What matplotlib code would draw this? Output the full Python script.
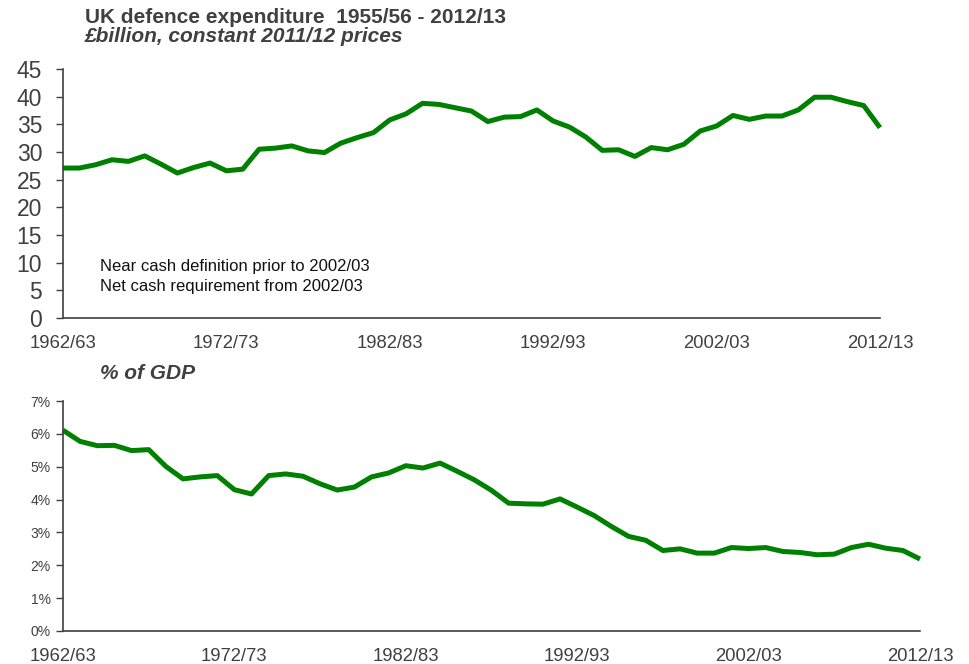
import matplotlib
matplotlib.use("Agg")
import matplotlib.pyplot as plt
import matplotlib.ticker as mticker
import numpy as np

plt.rcParams['font.family'] = ['Liberation Sans', 'DejaVu Sans']

years = ["%d/%02d" % (y, (y + 1) % 100) for y in range(1962, 2013)]
tick_labels = ["1962/63", "1972/73", "1982/83", "1992/93", "2002/03", "2012/13"]

spend_bn = [27.1, 27.1, 27.7, 28.6, 28.3, 29.3, 27.8, 26.2, 27.2, 28.0,
            26.6, 26.9, 30.5, 30.7, 31.1, 30.2, 29.9, 31.6, 32.6, 33.5,
            35.8, 36.9, 38.8, 38.6, 38.0, 37.4, 35.5, 36.3, 36.4, 37.6,
            35.6, 34.5, 32.7, 30.3, 30.4, 29.2, 30.8, 30.4, 31.4, 33.8,
            34.7, 36.6, 35.9, 36.5, 36.5, 37.6, 39.9, 39.9, 39.1, 38.4,
            34.4]

gdp_pct = [6.11, 5.77, 5.64, 5.65, 5.49, 5.52, 5.01, 4.63, 4.69, 4.73,
           4.30, 4.17, 4.73, 4.78, 4.71, 4.48, 4.29, 4.38, 4.69, 4.81,
           5.03, 4.96, 5.11, 4.86, 4.60, 4.28, 3.89, 3.87, 3.86, 4.02,
           3.77, 3.51, 3.18, 2.88, 2.76, 2.45, 2.50, 2.37, 2.37, 2.54,
           2.51, 2.54, 2.42, 2.39, 2.32, 2.34, 2.54, 2.64, 2.52, 2.45,
           2.19]

GREEN = "#008000"
TXT = "#404040"
W, H = 969, 664
fig = plt.figure(figsize=(W / 100, H / 100), dpi=100)

def ax_rect(x0, x1, ytop, ybot):
    return [x0 / W, 1 - ybot / H, (x1 - x0) / W, (ybot - ytop) / H]

x = np.arange(len(years))
tick_pos = [years.index(t) for t in tick_labels]

# Top chart
ax1 = fig.add_axes(ax_rect(63, 880, 69, 318))
ax1.plot(x, spend_bn, color=GREEN, lw=3.6, solid_joinstyle='round',
         solid_capstyle='butt', clip_on=False)
ax1.set_xlim(0, len(years) - 1)
ax1.set_ylim(0, 45)
ax1.set_yticks(np.arange(0, 46, 5))
ax1.set_xticks(tick_pos)
ax1.set_xticklabels(tick_labels)
ax1.tick_params(axis='y', direction='out', length=5, width=1, colors='#404040',
                labelsize=16.5, labelcolor=TXT, pad=10)
ax1.tick_params(axis='x', length=0, labelsize=13.3, labelcolor=TXT, pad=12.5)
for s in ['top', 'right']:
    ax1.spines[s].set_visible(False)
for s in ['left', 'bottom']:
    ax1.spines[s].set_color('#404040')
    ax1.spines[s].set_linewidth(1.2)
ax1.text(0.045, 0.235, "Near cash definition prior to 2002/03\nNet cash requirement from 2002/03",
         transform=ax1.transAxes, fontsize=12, color='#111111', va='top', ha='left',
         linespacing=1.35)

# Bottom chart
ax2 = fig.add_axes(ax_rect(63, 920, 401, 631))
ax2.plot(x, np.array(gdp_pct) / 100, color=GREEN, lw=3.6, solid_joinstyle='round',
         solid_capstyle='butt', clip_on=False)
ax2.set_xlim(0, len(years) - 1)
ax2.set_ylim(0, 0.07)
ax2.set_yticks(np.arange(0, 0.0701, 0.01))
ax2.yaxis.set_major_formatter(mticker.PercentFormatter(1.0, decimals=0))
ax2.set_xticks(tick_pos)
ax2.set_xticklabels(tick_labels)
ax2.tick_params(axis='y', direction='out', length=5, width=1, colors='#404040',
                labelsize=10, labelcolor=TXT, pad=4)
ax2.tick_params(axis='x', length=0, labelsize=13.3, labelcolor=TXT, pad=12)
for s in ['top', 'right']:
    ax2.spines[s].set_visible(False)
for s in ['left', 'bottom']:
    ax2.spines[s].set_color('#404040')
    ax2.spines[s].set_linewidth(1.2)

# Titles
fig.text(85 / W, 1 - 23 / H, "UK defence expenditure  1955/56 - 2012/13", fontsize=15,
         fontweight='bold', color=TXT, ha='left', va='baseline')
fig.text(85 / W, 1 - 42 / H, "£billion, constant 2011/12 prices", fontsize=15,
         fontweight='bold', fontstyle='italic', color=TXT, ha='left', va='baseline')
fig.text(100 / W, 1 - 379 / H, "% of GDP", fontsize=15,
         fontweight='bold', fontstyle='italic', color=TXT, ha='left', va='baseline')

fig.savefig("out.png", dpi=100)
